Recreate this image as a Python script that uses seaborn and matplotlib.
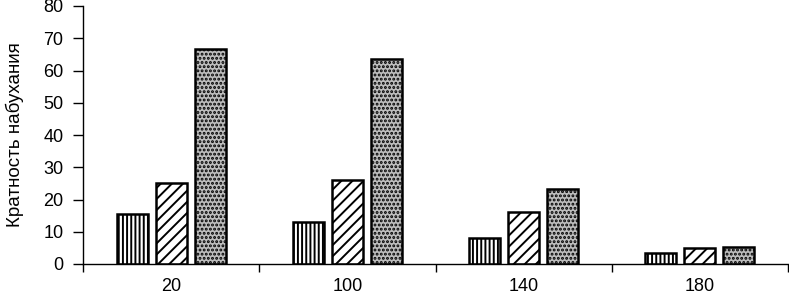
import matplotlib
matplotlib.use('Agg')
import matplotlib.pyplot as plt
import pandas as pd
import seaborn as sns

# Data
categories = ['20', '100', '140', '180']
series_a = [15.5, 13.0, 8.0, 3.5]
series_b = [25.0, 26.0, 16.0, 5.0]
series_c = [66.8, 63.5, 23.3, 5.3]
series_names = ['a', 'b', 'c']

df = pd.DataFrame({
    'cat': categories * 3,
    'val': series_a + series_b + series_c,
    'series': [s for s in series_names for _ in categories],
})

sns.set_style('white')
plt.rcParams['font.family'] = ['Liberation Sans', 'DejaVu Sans']
plt.rcParams['hatch.linewidth'] = 1.4

fig = plt.figure(figsize=(7.89, 2.95), dpi=100)
ax = fig.add_axes([83 / 789, 1 - 264 / 295, 705 / 789, 258 / 295])

sns.barplot(data=df, x='cat', y='val', hue='series', order=categories,
            hue_order=series_names, width=0.664, gap=0.21,
            palette=['white', 'white', '#bdbdbd'], saturation=1,
            edgecolor='black', linewidth=1.8, legend=False, ax=ax)

# fill patterns of the three series
hatches = {'a': '||||', 'b': '///', 'c': '....'}
for cont, name in zip(ax.containers, series_names):
    for bar in cont:
        bar.set_hatch(hatches[name])

ax.set_ylim(0, 80)
ax.set_xlim(-0.5, 3.5)
ax.set_yticks(range(0, 81, 10))
ax.set_xticks(range(len(categories)))
ax.set_xticklabels(categories)
ax.set_xticks([i - 0.5 for i in range(len(categories) + 1)], minor=True)
ax.tick_params(axis='x', which='major', length=0, pad=10, labelsize=13, labelcolor='black')
ax.tick_params(axis='x', which='minor', length=6, width=1, direction='out', bottom=True, color='black')
ax.tick_params(axis='y', length=7, width=1, direction='out', left=True, pad=7, labelsize=13,
               labelcolor='black', color='black')
ax.set_xlabel('')
ax.set_ylabel('Кратность набухания', fontsize=13.5, color='black', labelpad=14)

for side in ['top', 'right']:
    ax.spines[side].set_visible(False)
for side in ['left', 'bottom']:
    ax.spines[side].set_color('black')
    ax.spines[side].set_linewidth(1)

fig.savefig('out.png', dpi=100)
